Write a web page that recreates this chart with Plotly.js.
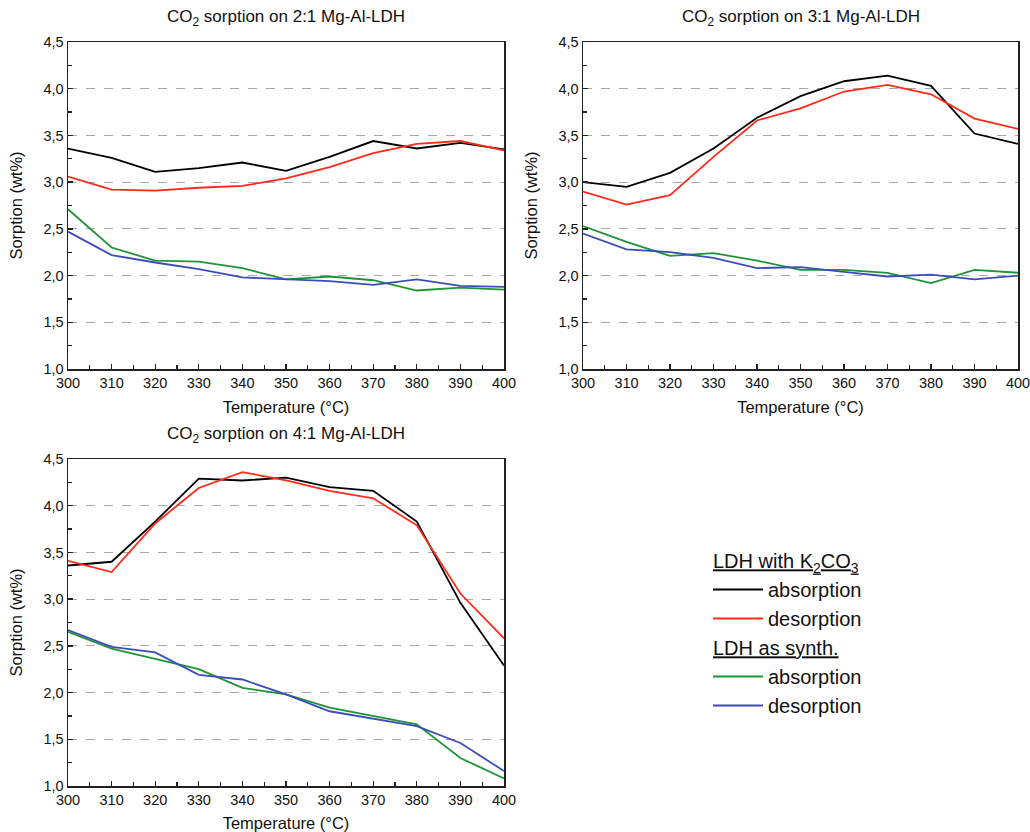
<!DOCTYPE html>
<html>
<head>
<meta charset="utf-8">
<script src="https://cdn.plot.ly/plotly-3.0.1.min.js"></script>
<style>html,body{margin:0;padding:0;background:#fff;}#chart{width:1030px;height:832px;}</style>
</head>
<body>
<div id="chart"></div>
<script>
// Temperatures (°C)
var temperature = [300, 310, 320, 330, 340, 350, 360, 370, 380, 390, 400];

// 2:1 Mg-Al-LDH
var mg21_k2co3_absorption = [3.36, 3.26, 3.11, 3.15, 3.21, 3.12, 3.27, 3.44, 3.36, 3.42, 3.35];
var mg21_k2co3_desorption = [3.06, 2.92, 2.91, 2.94, 2.96, 3.04, 3.16, 3.31, 3.41, 3.44, 3.34];
var mg21_synth_absorption = [2.71, 2.30, 2.16, 2.15, 2.08, 1.96, 1.99, 1.95, 1.84, 1.87, 1.85];
var mg21_synth_desorption = [2.47, 2.22, 2.14, 2.07, 1.98, 1.96, 1.94, 1.90, 1.96, 1.89, 1.88];

// 3:1 Mg-Al-LDH
var mg31_k2co3_absorption = [3.00, 2.95, 3.10, 3.36, 3.69, 3.92, 4.08, 4.14, 4.03, 3.52, 3.41];
var mg31_k2co3_desorption = [2.90, 2.76, 2.86, 3.27, 3.66, 3.79, 3.97, 4.04, 3.94, 3.68, 3.57];
var mg31_synth_absorption = [2.53, 2.36, 2.21, 2.24, 2.16, 2.06, 2.06, 2.03, 1.92, 2.06, 2.03];
var mg31_synth_desorption = [2.45, 2.28, 2.25, 2.19, 2.08, 2.09, 2.04, 1.99, 2.01, 1.96, 2.00];

// 4:1 Mg-Al-LDH
var mg41_k2co3_absorption = [3.36, 3.40, 3.83, 4.29, 4.27, 4.30, 4.20, 4.16, 3.83, 2.96, 2.29];
var mg41_k2co3_desorption = [3.41, 3.29, 3.81, 4.19, 4.36, 4.27, 4.16, 4.08, 3.79, 3.06, 2.58];
var mg41_synth_absorption = [2.65, 2.47, 2.36, 2.25, 2.05, 1.98, 1.84, 1.75, 1.66, 1.30, 1.08];
var mg41_synth_desorption = [2.67, 2.49, 2.43, 2.19, 2.14, 1.98, 1.80, 1.72, 1.64, 1.46, 1.16];

var panelTitles = [
  "CO<sub>2</sub> sorption on 2:1 Mg-Al-LDH",
  "CO<sub>2</sub> sorption on 3:1 Mg-Al-LDH",
  "CO<sub>2</sub> sorption on 4:1 Mg-Al-LDH"
];
var groupTitles = ["<u>LDH with K<sub>2</sub>CO<sub>3</sub></u>", "<u>LDH as synth.</u>"];
var seriesNames = ["absorption", "desorption"];
var xTitle = "Temperature (°C)";
var yTitle = "Sorption (wt%)";

var colors = ["#000000", "#ff2a1a", "#1e9435", "#3b4db8"];
var FONT = "Arial, 'Liberation Sans', Helvetica, sans-serif";

var panels = [
  [mg21_k2co3_absorption, mg21_k2co3_desorption, mg21_synth_absorption, mg21_synth_desorption],
  [mg31_k2co3_absorption, mg31_k2co3_desorption, mg31_synth_absorption, mg31_synth_desorption],
  [mg41_k2co3_absorption, mg41_k2co3_desorption, mg41_synth_absorption, mg41_synth_desorption]
];
var axisSuffix = ["", "2", "3"];

var traces = [];
panels.forEach(function (series, p) {
  series.forEach(function (vals, s) {
    var grp = s < 2 ? "k2co3" : "synth";
    traces.push({
      x: temperature, y: vals, type: "scatter", mode: "lines",
      xaxis: "x" + axisSuffix[p], yaxis: "y" + axisSuffix[p],
      line: {color: colors[s], width: 1.8},
      name: seriesNames[s % 2],
      legendgroup: grp,
      legendgrouptitle: {text: groupTitles[s < 2 ? 0 : 1], font: {size: 20, family: FONT, color: "#111"}},
      showlegend: p === 0
    });
  });
});

function W(px) { return px / 1030; }
function H(px) { return 1 - px / 832; }

var boxes = [
  {x0: 68, x1: 504, y0: 42, y1: 369},
  {x0: 583, x1: 1018, y0: 42, y1: 369},
  {x0: 68, x1: 504, y0: 459, y1: 786}
];

function xAxis(b, anchor) {
  return {
    domain: [W(b.x0), W(b.x1)], anchor: anchor,
    range: [300, 400], dtick: 10, tick0: 300,
    ticks: "inside", ticklen: 5, tickwidth: 1.3, tickcolor: "#222",
    minor: {ticks: "inside", dtick: 5, ticklen: 4, tickwidth: 1.2, tickcolor: "#222", showgrid: false},
    showline: true, linecolor: "#222", linewidth: 1.5, mirror: true,
    showgrid: false, zeroline: false,
    ticklabeloverflow: "allow",
    tickfont: {size: 14.5, family: FONT, color: "#111"},
    title: {text: xTitle, font: {size: 16.5, family: FONT, color: "#111"}, standoff: 11},
    automargin: false, fixedrange: true
  };
}
function yAxis(b, anchor) {
  return {
    domain: [H(b.y1), H(b.y0)], anchor: anchor,
    range: [1.0, 4.5], dtick: 0.5, tick0: 1.0, tickformat: ".1f",
    ticks: "inside", ticklen: 5, tickwidth: 1.3, tickcolor: "#222",
    minor: {ticks: "inside", dtick: 0.25, ticklen: 4, tickwidth: 1.2, tickcolor: "#222", showgrid: false},
    showline: true, linecolor: "#222", linewidth: 1.5, mirror: true,
    showgrid: true, gridcolor: "#a8a8a8", gridwidth: 1, griddash: "dash",
    zeroline: false,
    ticklabeloverflow: "allow",
    tickfont: {size: 14.5, family: FONT, color: "#111"},
    title: {text: yTitle, font: {size: 16.5, family: FONT, color: "#111"}, standoff: 16},
    automargin: false, fixedrange: true
  };
}

var annotations = boxes.map(function (b, i) {
  return {
    text: panelTitles[i], xref: "paper", yref: "paper",
    x: W((b.x0 + b.x1) / 2), y: H(b.y0 - 24), xanchor: "center", yanchor: "middle",
    showarrow: false, font: {size: 17, family: FONT, color: "#111"}
  };
});

var layout = {
  width: 1030, height: 832,
  margin: {l: 0, r: 0, t: 0, b: 0},
  paper_bgcolor: "#ffffff", plot_bgcolor: "#ffffff",
  separators: ", ",
  showlegend: true,
  legend: {
    x: W(708), y: H(541), xanchor: "left", yanchor: "top",
    font: {size: 20, family: FONT, color: "#111"},
    tracegroupgap: 0, itemwidth: 50,
    bgcolor: "rgba(0,0,0,0)", borderwidth: 0
  },
  xaxis: xAxis(boxes[0], "y"), yaxis: yAxis(boxes[0], "x"),
  xaxis2: xAxis(boxes[1], "y2"), yaxis2: yAxis(boxes[1], "x2"),
  xaxis3: xAxis(boxes[2], "y3"), yaxis3: yAxis(boxes[2], "x3"),
  annotations: annotations
};

Plotly.newPlot("chart", traces, layout, {staticPlot: true, displayModeBar: false});
</script>
</body>
</html>
